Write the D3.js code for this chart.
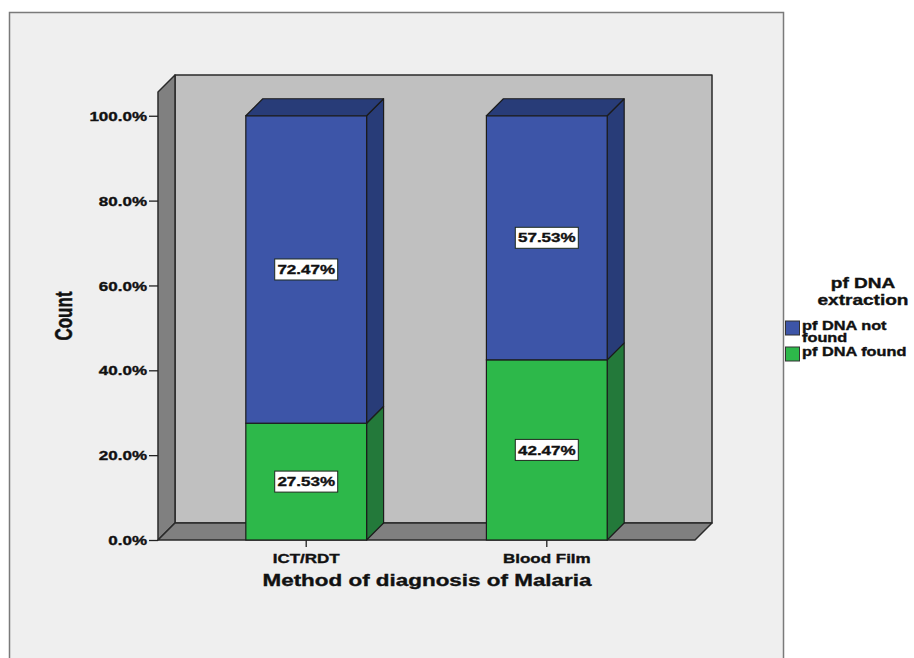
<!DOCTYPE html>
<html>
<head>
<meta charset="utf-8">
<script src="https://cdn.jsdelivr.net/npm/d3@7"></script>
<style>
  html, body { margin: 0; padding: 0; background: #ffffff; }
  svg { display: block; }
  text { font-family: "Liberation Sans", Arial, sans-serif; font-weight: bold; fill: #111; stroke: #111; stroke-width: 0.35px; }
</style>
</head>
<body>
<svg id="chart" width="914" height="658"></svg>
<script>
// Percent of cases by diagnosis method, stacked by DNA extraction result
const categories = ["ICT/RDT", "Blood Film"];
const seriesKeys = ["found", "notFound"];
const seriesNames = { found: "pf DNA found", notFound: "pf DNA not found" };
const foundPct = [27.53, 42.47];
const notFoundPct = [72.47, 57.53];
const yTickValues = [0, 20, 40, 60, 80, 100];
const yTickLabels = ["0.0%", "20.0%", "40.0%", "60.0%", "80.0%", "100.0%"];

const rows = categories.map((c, i) => ({ cat: c, found: foundPct[i], notFound: notFoundPct[i] }));

const svg = d3.select("#chart");
const depth = 17;          // 3D extrusion offset
const sx = 1.36;           // horizontal text stretch

const x = d3.scaleBand().domain(categories).range([158, 695])
  .paddingInner(0.498).paddingOuter(0.365);
const y = d3.scaleLinear().domain([0, 105.6]).range([540, 92]);

const faces = {
  found:    { front: "#2db84a", side: "#23793a", top: "#23793a" },
  notFound: { front: "#3d55a8", side: "#283c78", top: "#283c78" }
};

function sText(g, px, py, str, size, anchor, extra) {
  return g.append("text")
    .attr("transform", `translate(${px},${py}) scale(${sx},1)` + (extra || ""))
    .attr("text-anchor", anchor)
    .style("font-size", size + "px")
    .text(str);
}

// outer frame
svg.append("rect").attr("x", 9.5).attr("y", 12.5).attr("width", 774).attr("height", 700)
  .attr("fill", "#efefef").attr("stroke", "#7a7a7a").attr("stroke-width", 1.5);

const [x0, x1] = x.range();
const yb = y(0), yt = y(105.6);
function poly(pts, fill) {
  return svg.append("polygon").attr("points", pts.map(d => d.join(",")).join(" ")).attr("fill", fill)
    .attr("stroke", "#2a2a2a").attr("stroke-width", 1.5).attr("stroke-linejoin", "round");
}

// back wall, side wall, floor
poly([[x0 + depth, yt - depth], [x1 + depth, yt - depth], [x1 + depth, yb - depth], [x0 + depth, yb - depth]], "#c0c0c0");
poly([[x0, yt], [x0 + depth, yt - depth], [x0 + depth, yb - depth], [x0, yb]], "#808080");
poly([[x0, yb], [x0 + depth, yb - depth], [x1 + depth, yb - depth], [x1, yb]], "#808080");

// stacked 3D bars
const stacked = d3.stack().keys(seriesKeys)(rows);
const barStroke = "#1c1c1c";
const bw = x.bandwidth();
stacked.forEach((layer, li) => {
  const key = layer.key;
  layer.forEach(seg => {
    const bx = x(seg.data.cat);
    const ylo = y(seg[0]), yhi = y(seg[1]);
    // side face
    svg.append("polygon")
      .attr("points", [[bx + bw, ylo], [bx + bw + depth, ylo - depth], [bx + bw + depth, yhi - depth], [bx + bw, yhi]].map(d => d.join(",")).join(" "))
      .attr("fill", faces[key].side).attr("stroke", barStroke).attr("stroke-width", 1.2).attr("stroke-linejoin", "round");
    // front face
    svg.append("rect").attr("x", bx).attr("y", yhi).attr("width", bw).attr("height", ylo - yhi)
      .attr("fill", faces[key].front).attr("stroke", barStroke).attr("stroke-width", 1.2);
    // top face for the upper segment
    if (li === stacked.length - 1) {
      svg.append("polygon")
        .attr("points", [[bx, yhi], [bx + depth, yhi - depth], [bx + bw + depth, yhi - depth], [bx + bw, yhi]].map(d => d.join(",")).join(" "))
        .attr("fill", faces[key].top).attr("stroke", barStroke).attr("stroke-width", 1.2).attr("stroke-linejoin", "round");
    }
  });
});

// value labels
stacked.forEach(layer => {
  layer.forEach(seg => {
    const cx = x(seg.data.cat) + bw / 2;
    const cy = (y(seg[0]) + y(seg[1])) / 2;
    const g = svg.append("g");
    g.append("rect").attr("x", cx - 31.5).attr("y", cy - 10.5).attr("width", 63).attr("height", 21)
      .attr("fill", "#ffffff").attr("stroke", "#1e2a1e").attr("stroke-width", 1);
    sText(g, cx, cy + 4.6, (seg[1] - seg[0]).toFixed(2) + "%", 12.5, "middle");
  });
});

// y axis
const yAxis = svg.append("g").attr("transform", `translate(${x0},0)`)
  .call(d3.axisLeft(y).tickValues(yTickValues).tickSize(9).tickFormat((d, i) => yTickLabels[i]));
yAxis.select(".domain").remove();
yAxis.selectAll(".tick line").attr("stroke", "#222").attr("stroke-width", 1.3);
yAxis.selectAll(".tick text").each(function () {
  d3.select(this).attr("x", null).attr("dy", null)
    .attr("transform", `translate(-11,4.6) scale(${sx},1)`)
    .style("font-size", "12.5px").attr("fill", "#111");
});
yAxis.attr("font-family", null).attr("font-size", null);

// x axis
const xAxis = svg.append("g").attr("transform", `translate(0,${yb})`)
  .call(d3.axisBottom(x).tickSize(7).tickPadding(0));
xAxis.select(".domain").remove();
xAxis.selectAll(".tick line").attr("stroke", "#222").attr("stroke-width", 1.3);
xAxis.selectAll(".tick text").each(function () {
  d3.select(this).attr("y", null).attr("dy", null)
    .attr("transform", `translate(0,23) scale(${sx},1)`)
    .style("font-size", "12.5px").attr("fill", "#111");
});
xAxis.attr("font-family", null).attr("font-size", null);

// axis titles
sText(svg, 427, 586, "Method of diagnosis of Malaria", 16.5, "middle");
sText(svg, 72, 316, "Count", 17, "middle", " rotate(-90)");

// legend
const lg = svg.append("g");
sText(lg, 863, 288, "pf DNA", 14, "middle");
sText(lg, 863, 304.5, "extraction", 14, "middle");
const legendItems = [
  { key: "notFound", lines: ["pf DNA not", "found"], top: 321 },
  { key: "found", lines: ["pf DNA found"], top: 347 }
];
legendItems.forEach(it => {
  lg.append("rect").attr("x", 785.5).attr("y", it.top).attr("width", 14).attr("height", 14)
    .attr("fill", faces[it.key].front).attr("stroke", "#333").attr("stroke-width", 1);
  it.lines.forEach((ln, j) => sText(lg, 802, it.top + 8.5 + j * 12, ln, 12, "start"));
});
</script>
</body>
</html>
